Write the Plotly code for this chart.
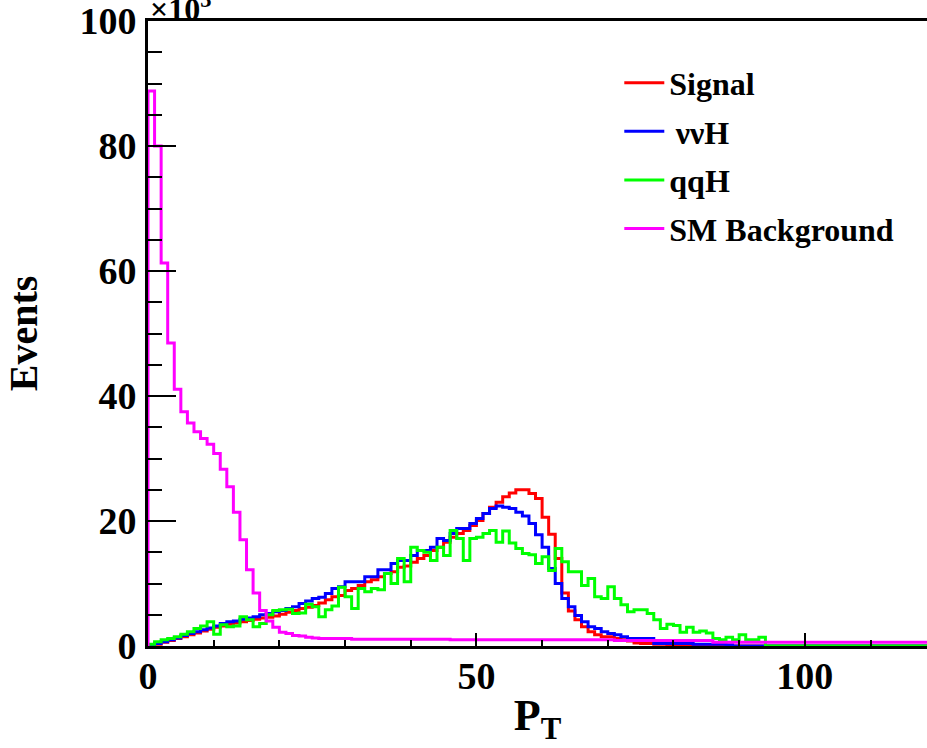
import plotly.graph_objects as go

# bin edges: 1 GeV bins from 0 to 120
n_bins = 120
bin_edges = list(range(0, n_bins + 1))

signal = [0.1, 0.3, 0.6, 0.9, 1.2, 1.5, 1.8, 2.1, 2.4, 2.7,
          3.0, 3.2, 3.5, 3.7, 3.9, 4.1, 4.3, 4.5, 4.6, 4.8,
          5.1, 5.4, 5.7, 6.0, 6.2, 6.5, 6.9, 7.4, 7.9, 8.1,
          8.9, 9.2, 9.7, 10.3, 10.6, 11.1, 11.6, 11.9, 12.6, 12.8,
          13.4, 14.0, 14.5, 15.3, 15.8, 16.6, 17.4, 18.0, 18.5, 19.3,
          20.1, 21.2, 22.2, 23.0, 23.9, 24.5, 25.0, 25.0, 24.4, 23.6,
          20.6, 17.9, 14.0, 8.5, 5.6, 4.2, 3.1, 2.3, 1.8, 1.5,
          1.5, 1.2, 1.0, 0.8, 0.5, 0.4, 0.4, 0.3, 0.3, 0.2,
          0.2, 0.1, 0, 0, 0, 0, 0, 0, 0, 0,
          0, 0, 0, 0, 0, 0, 0, 0, 0, 0,
          0, 0, 0, 0, 0, 0, 0, 0, 0, 0,
          0, 0, 0, 0, 0, 0, 0, 0, 0, 0]

nunuH = [0.2, 0.4, 0.7, 1.0, 1.3, 1.7, 2.0, 2.3, 2.6, 2.9,
         3.2, 3.6, 3.9, 4.0, 4.3, 4.5, 4.7, 5.0, 5.2, 5.5,
         5.7, 6.0, 6.3, 6.8, 7.2, 7.6, 7.8, 8.4, 9.2, 9.5,
         10.3, 10.3, 10.3, 11.1, 11.1, 12.2, 12.2, 13.2, 13.7, 13.7,
         14.5, 15.3, 15.3, 15.8, 17.2, 16.9, 18.0, 18.8, 18.8, 19.6,
         20.4, 21.2, 22.0, 22.4, 22.2, 22.0, 21.4, 20.8, 19.6, 17.8,
         15.8, 12.4, 10.0, 7.6, 6.3, 4.9, 3.9, 3.1, 2.8, 2.3,
         2.0, 1.8, 1.5, 1.2, 1.2, 1.2, 1.2, 0.4, 0.4, 0.4,
         0.4, 0.4, 0.4, 0.3, 0.3, 0.3, 0.3, 0.3, 0.2, 0,
         0, 0, 0, 0, 0, 0, 0, 0, 0, 0,
         0, 0, 0, 0, 0, 0, 0, 0, 0, 0,
         0, 0, 0, 0, 0, 0, 0, 0, 0, 0]

qqH = [0.3, 0.7, 1.0, 1.2, 1.5, 1.9, 2.3, 2.8, 3.2, 3.9,
       1.9, 3.4, 3.1, 3.2, 4.7, 4.2, 3.1, 3.6, 5.0, 5.7,
       5.8, 5.9, 5.2, 5.3, 6.7, 6.3, 4.7, 5.8, 6.4, 9.4,
       7.9, 6.0, 9.2, 8.7, 9.2, 9.0, 11.6, 10.0, 14.0, 10.3,
       15.8, 15.3, 15.0, 13.7, 15.8, 14.5, 18.5, 17.2, 13.7, 17.2,
       17.4, 18.0, 18.5, 16.6, 18.4, 16.5, 15.6, 14.8, 14.6, 13.2,
       14.3, 12.1, 15.6, 13.5, 11.9, 11.9, 9.7, 10.8, 7.9, 7.6,
       9.5, 7.6, 6.6, 5.5, 5.8, 5.8, 5.2, 4.2, 2.8, 3.5,
       3.3, 2.2, 3.0, 2.2, 2.4, 2.1, 1.2, 1.0, 1.4, 1.0,
       1.8, 1.0, 1.0, 1.4, 0, 0, 0, 0, 0, 0,
       0, 0, 0, 0, 0, 0, 0, 0, 0, 0,
       0, 0, 0, 0, 0, 0, 0, 0, 0, 0]

sm_background = [88.8, 80.0, 61.3, 48.5, 41.1, 37.5, 35.7, 34.3, 33.2, 32.3,
                 30.8, 28.3, 25.5, 21.4, 17.0, 12.2, 8.5, 5.7, 4.0, 3.0,
                 2.2, 2.0, 1.7, 1.6, 1.4, 1.3, 1.2, 1.2, 1.2, 1.2,
                 1.2, 1.1, 1.1, 1.1, 1.1, 1.1, 1.1, 1.1, 1.1, 1.1,
                 1.1, 1.1, 1.1, 1.1, 1.1, 1.1, 1.0, 1.0, 1.0, 1.0,
                 1.0, 1.0, 1.0, 1.0, 1.0, 1.0, 1.0, 1.0, 1.0, 1.0,
                 1.0, 1.0, 1.0, 1.0, 1.0, 1.0, 1.0, 1.0, 1.0, 1.0,
                 1.0, 0.9, 0.9, 0.9, 0.9, 0.9, 0.9, 0.9, 0.9, 0.9,
                 0.9, 0.9, 0.9, 0.9, 0.9, 0.9, 0.6, 0.6, 0.6, 0.6,
                 0.6, 0.6, 0.6, 0.6, 0.6, 0.6, 0.6, 0.6, 0.6, 0.6,
                 0.6, 0.6, 0.6, 0.6, 0.6, 0.6, 0.6, 0.6, 0.6, 0.6,
                 0.6, 0.6, 0.6, 0.6, 0.6, 0.6, 0.6, 0.6, 0.6, 0.6]

series = [
    ("Signal", signal, "#ff0000"),
    ("\u2009\u03bd\u03bdH", nunuH, "#0000ff"),
    ("qqH", qqH, "#00ff00"),
    ("SM Background", sm_background, "#ff00ff"),
]

FONT = "Liberation Serif"

fig = go.Figure()
for i, (name, vals, color) in enumerate(series):
    xs = [bin_edges[0]] + bin_edges[:-1] + [bin_edges[-1]]
    ys = [0] + list(vals) + [vals[-1]]
    fig.add_trace(go.Scatter(
        x=xs, y=ys, mode="lines", name=name,
        line=dict(color=color, width=3, shape="hv"),
        legendgroup="g%d" % i,
        hoverinfo="skip",
    ))

fig.update_layout(
    width=927, height=748,
    margin=dict(l=148, r=0, t=19, b=102),
    paper_bgcolor="white", plot_bgcolor="white",
    font=dict(family=FONT, color="black", size=38, weight="bold"),
    showlegend=True,
    legend=dict(
        x=0.605, y=0.945, xanchor="left", yanchor="top",
        bgcolor="rgba(0,0,0,0)", borderwidth=0,
        font=dict(family=FONT, size=32, color="black", weight="bold"),
        tracegroupgap=4, itemwidth=40,
    ),
    xaxis=dict(
        range=[0, 118.6], showgrid=False, zeroline=False,
        showline=True, linecolor="black", linewidth=3, mirror=True,
        ticks="inside", ticklen=13, tickwidth=2, tickcolor="black",
        tickmode="linear", tick0=0, dtick=50,
        minor=dict(ticks="inside", ticklen=6, tickwidth=2, tickcolor="black", dtick=10),
        tickfont=dict(family=FONT, size=38, color="black", weight="bold"),
        ticklabelstandoff=-6, ticklabeloverflow="allow",
        title=dict(text="P<sub>T</sub>", standoff=4,
                   font=dict(family=FONT, size=44, color="black", weight="bold")),
    ),
    yaxis=dict(
        range=[0, 100], showgrid=False, zeroline=False,
        showline=True, linecolor="black", linewidth=3, mirror=False,
        ticks="inside", ticklen=28, tickwidth=2, tickcolor="black",
        tickmode="linear", tick0=0, dtick=20,
        minor=dict(ticks="inside", ticklen=14, tickwidth=2, tickcolor="black", dtick=5),
        tickfont=dict(family=FONT, size=38, color="black", weight="bold"),
        ticklabelstandoff=1, ticklabeloverflow="allow",
        title=dict(text="Events", standoff=30,
                   font=dict(family=FONT, size=40, color="black", weight="bold")),
    ),
    annotations=[dict(
        text="\u00d710<sup>3</sup>", xref="paper", yref="paper",
        x=0.0, y=1.0, xanchor="left", yanchor="bottom", yshift=-8,
        showarrow=False,
        font=dict(family=FONT, size=32, color="black", weight="bold"),
    )],
)

fig.write_html("out.html")
